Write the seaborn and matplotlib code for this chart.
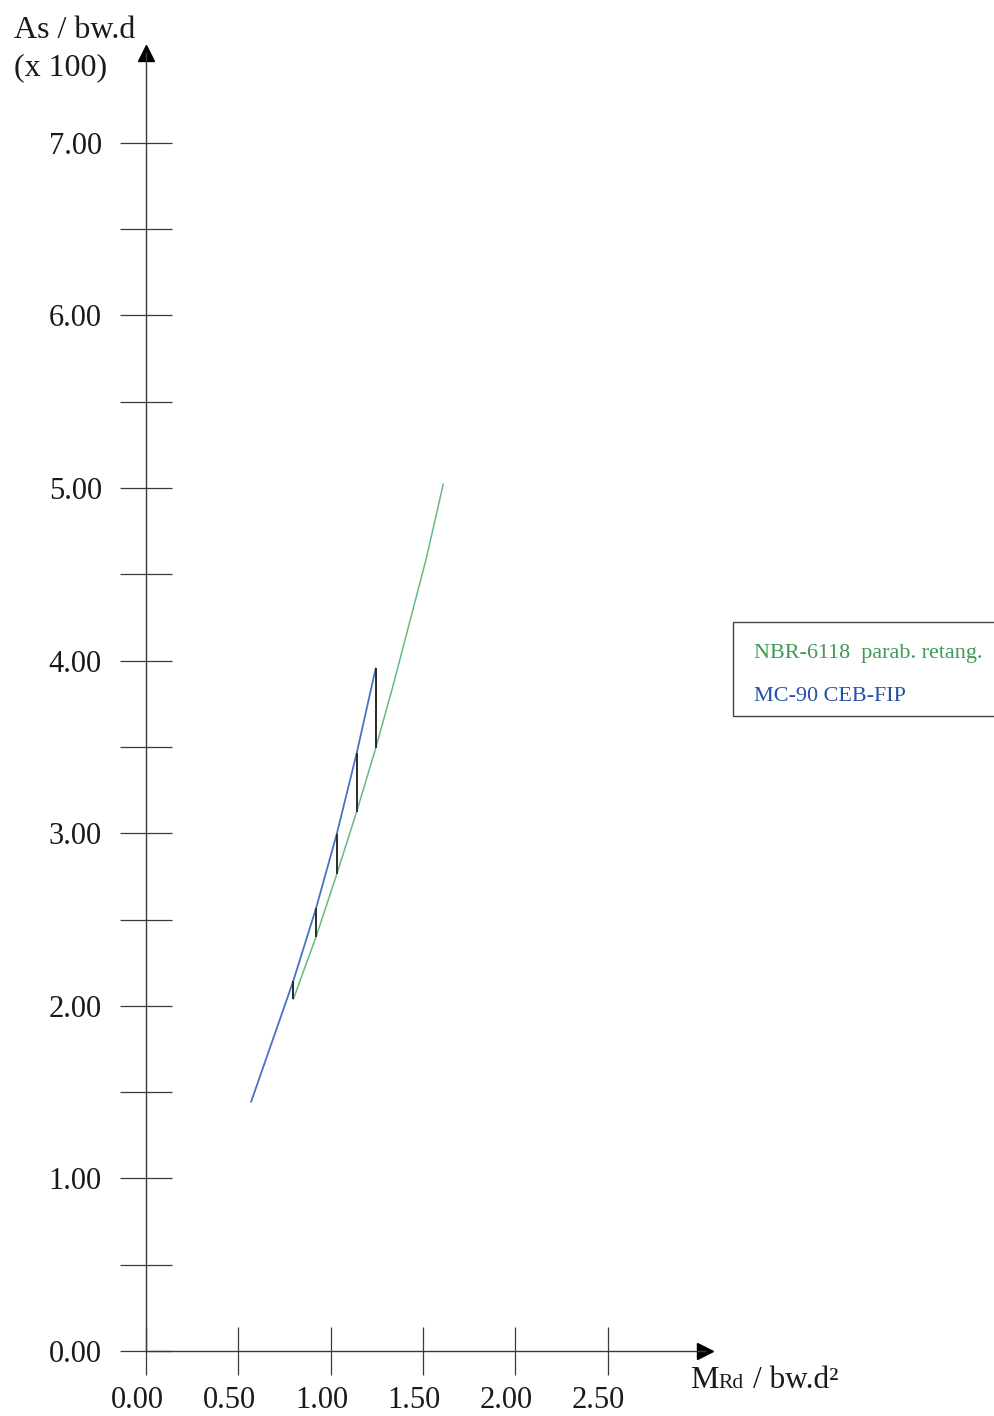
import matplotlib
matplotlib.use("Agg")
import matplotlib.pyplot as plt
import matplotlib.transforms as mtransforms
from matplotlib.lines import Line2D
from matplotlib.patches import Rectangle
import seaborn as sns
import pandas as pd

# ---------------- data ----------------
mrd_mc90 = [0.569, 0.798, 0.921, 1.033, 1.141, 1.244]
as_mc90 = [1.443, 2.145, 2.565, 2.995, 3.463, 3.955]

mrd_nbr = [0.798, 0.921, 1.033, 1.141, 1.244, 1.334, 1.516, 1.610]
as_nbr = [2.038, 2.400, 2.762, 3.125, 3.492, 3.839, 4.583, 5.023]

# vertical connectors between the two curves
mrd_jump = [0.798, 0.921, 1.033, 1.141, 1.244]
as_jump_low = [2.038, 2.400, 2.762, 3.125, 3.492]
as_jump_high = [2.145, 2.565, 2.995, 3.463, 3.955]

x_ticks = [0.0, 0.5, 1.0, 1.5, 2.0, 2.5]
x_ticklabels = ["0.00", "0.50", "1.00", "1.50", "2.00", "2.50"]
y_ticks = [0, 1, 2, 3, 4, 5, 6, 7]
y_ticklabels = ["0.00", "1.00", "2.00", "3.00", "4.00", "5.00", "6.00", "7.00"]
y_minor = [0.5, 1.5, 2.5, 3.5, 4.5, 5.5, 6.5]

label_nbr = "NBR-6118  parab. retang."
label_mc90 = "MC-90 CEB-FIP"

df_nbr = pd.DataFrame({"MRd": mrd_nbr, "As": as_nbr})
df_mc = pd.DataFrame({"MRd": mrd_mc90, "As": as_mc90})

# ---------------- style ----------------
sns.set_style("white")
plt.rcParams["font.family"] = ["Liberation Serif", "DejaVu Serif"]

W, H = 994, 1416
fig = plt.figure(figsize=(W / 100, H / 100), dpi=100)
x0_px, xr_px = 146, 705
y0_px, yt_px = 1351, 53
ax = fig.add_axes([x0_px / W, (H - y0_px) / H, (xr_px - x0_px) / W, (y0_px - yt_px) / H])

GREEN = "#67b981"
BLUE = "#4673c6"
AXC = "#3a3a3a"
TXT = "#1a1a1a"

sns.lineplot(data=df_nbr, x="MRd", y="As", ax=ax, color=GREEN, lw=1.1, sort=False,
             estimator=None, legend=False)
sns.lineplot(data=df_mc, x="MRd", y="As", ax=ax, color=BLUE, lw=1.3, sort=False,
             estimator=None, legend=False)
ax.vlines(mrd_jump, as_jump_low, as_jump_high, color="#2b2b2b", lw=1.4)

ax.set_xlim(0, (xr_px - x0_px) / 184.64)
ax.set_ylim(0, (y0_px - yt_px) / 172.6)

for s in ["top", "right"]:
    ax.spines[s].set_visible(False)
for s in ["left", "bottom"]:
    ax.spines[s].set_color(AXC)
    ax.spines[s].set_linewidth(1.0)

ax.set_xticks(x_ticks)
ax.set_xticklabels(x_ticklabels)
ax.set_yticks(y_ticks)
ax.set_yticklabels(y_ticklabels)
ax.set_yticks(y_minor, minor=True)

ax.tick_params(axis="x", which="major", bottom=True, direction="inout", length=34.5, width=0.9,
               color=AXC, labelsize=22, pad=8, labelcolor=TXT)
ax.tick_params(axis="y", which="both", left=True, direction="inout", length=37.4, width=0.9,
               color=AXC, labelsize=22, pad=13, labelcolor=TXT)
ax.set_xlabel("")
ax.set_ylabel("")

# shift x tick labels slightly left as in the reference
off = mtransforms.ScaledTranslation(-9 / 100, 0, fig.dpi_scale_trans)
for lbl in ax.get_xticklabels():
    lbl.set_transform(lbl.get_transform() + off)

# arrow heads
ax.plot(1, 0, ">", color="black", ms=11, transform=ax.get_yaxis_transform(), clip_on=False)
ax.plot(0, 1, "^", color="black", ms=11, transform=ax.get_xaxis_transform(), clip_on=False)

# axis titles
fig.text(14 / W, 1 - 38 / H, "As / bw.d", fontsize=23, va="baseline", ha="left", color=TXT)
fig.text(14 / W, 1 - 75 / H, "(x 100)", fontsize=23, va="baseline", ha="left", color=TXT)
fig.text(690 / W, 1 - 1388 / H, "M", fontsize=23, va="baseline", ha="left", color=TXT)
fig.text(718 / W, 1 - 1388 / H, "Rd", fontsize=15.5, va="baseline", ha="left", color=TXT)
fig.text(753 / W, 1 - 1388 / H, "/ bw.d²", fontsize=22.5, va="baseline", ha="left", color=TXT)

# legend box
fig.patches.append(Rectangle((732.7 / W, 1 - 716 / H), 300 / W, (716 - 622.3) / H,
                             transform=fig.transFigure, fill=False, ec="#444444", lw=1.0))

# legend
handles = [Line2D([], [], color=GREEN, lw=0), Line2D([], [], color=BLUE, lw=0)]
leg = ax.legend(handles, [label_nbr, label_mc90], loc="upper left",
                bbox_to_anchor=(754 / W, 1 - 643 / H), bbox_transform=fig.transFigure,
                frameon=False, fontsize=15.9,
                handlelength=0, handletextpad=0, borderpad=0, labelspacing=1.0,
                borderaxespad=0)
leg.get_texts()[0].set_color("#3f9a55")
leg.get_texts()[1].set_color("#2350a8")

fig.savefig("out.png", dpi=100)
